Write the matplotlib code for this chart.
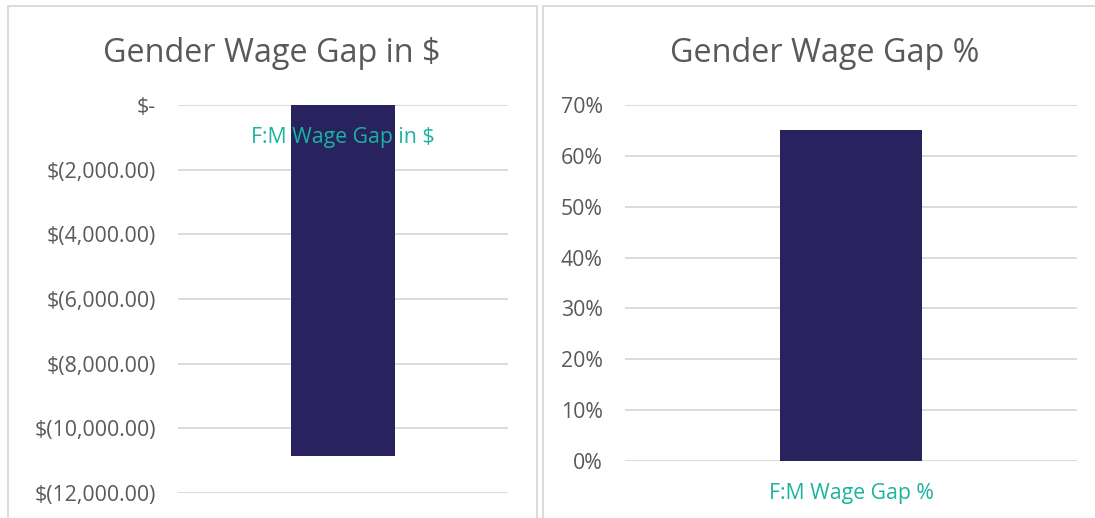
import matplotlib.pyplot as plt
from matplotlib.patches import Rectangle
from matplotlib.ticker import FuncFormatter

# data
cat_dollar = ['F:M Wage Gap in $']
gap_dollar = [-10850]
dollar_ticks = [0, -2000, -4000, -6000, -8000, -10000, -12000]

cat_pct = ['F:M Wage Gap %']
gap_pct = [0.65]
pct_ticks = [0, 0.1, 0.2, 0.3, 0.4, 0.5, 0.6, 0.7]

bar_col = '#28235e'
grid_col = '#d9d9d9'
txt_col = '#595959'
teal = '#1ab3a0'
font = 'Open Sans'
fs = 15.3
plt.rcParams['font.family'] = [font, 'DejaVu Sans']

W, H = 1095, 518
fig = plt.figure(figsize=(W / 100, H / 100), dpi=100)


def box(x0, x1, y0, y1):
    return [x0 / W, 1 - y1 / H, (x1 - x0) / W, (y1 - y0) / H]


# chart frames
for x0, x1 in [(8, 537), (543, 1110)]:
    fig.patches.append(Rectangle((x0 / W, -0.1), (x1 - x0) / W, 1.1 - 6 / H,
                                 transform=fig.transFigure, fill=False,
                                 edgecolor=grid_col, lw=1.3))


def dollar_fmt(v, pos):
    if v == 0:
        return '$-'
    return '$({:,.2f})'.format(abs(v))


def style(ax, ticks):
    ax.set_xlim(-0.5, 0.5)
    ax.set_yticks(ticks)
    ax.grid(axis='y', color=grid_col, lw=1.3)
    ax.set_axisbelow(True)
    for s in ax.spines.values():
        s.set_visible(False)
    ax.tick_params(axis='y', length=0, pad=16, labelsize=fs, labelcolor=txt_col)
    ax.patch.set_visible(False)


# left chart
ax1 = fig.add_axes(box(178, 508, 105, 493))
ax1.bar(0, gap_dollar[0], width=0.315, color=bar_col, zorder=2)
ax1.set_ylim(min(dollar_ticks), max(dollar_ticks))
style(ax1, dollar_ticks)
ax1.yaxis.set_major_formatter(FuncFormatter(dollar_fmt))
ax1.set_xticks([])
lab_y = -(137 - 105) / 388 * (max(dollar_ticks) - min(dollar_ticks))
ax1.text(0, lab_y, cat_dollar[0], ha='center', va='center',
         fontsize=fs, color=teal, zorder=3)
fig.text(272 / W, 1 - 62 / H, 'Gender Wage Gap in $', ha='center', va='baseline',
         fontsize=23.3, color=txt_col)

# right chart
ax2 = fig.add_axes(box(625, 1077, 105, 461))
ax2.bar(0, gap_pct[0], width=0.314, color=bar_col, zorder=2)
ax2.set_ylim(min(pct_ticks), max(pct_ticks))
style(ax2, pct_ticks)
ax2.yaxis.set_major_formatter(FuncFormatter(lambda v, p: '{:.0f}%'.format(v * 100)))
ax2.set_xticks([0])
ax2.set_xticklabels(cat_pct)
ax2.tick_params(axis='x', length=0, pad=16, labelsize=fs, labelcolor=teal)
fig.text(825 / W, 1 - 62 / H, 'Gender Wage Gap %', ha='center', va='baseline',
         fontsize=23.3, color=txt_col)

plt.savefig('out.png', dpi=100)
